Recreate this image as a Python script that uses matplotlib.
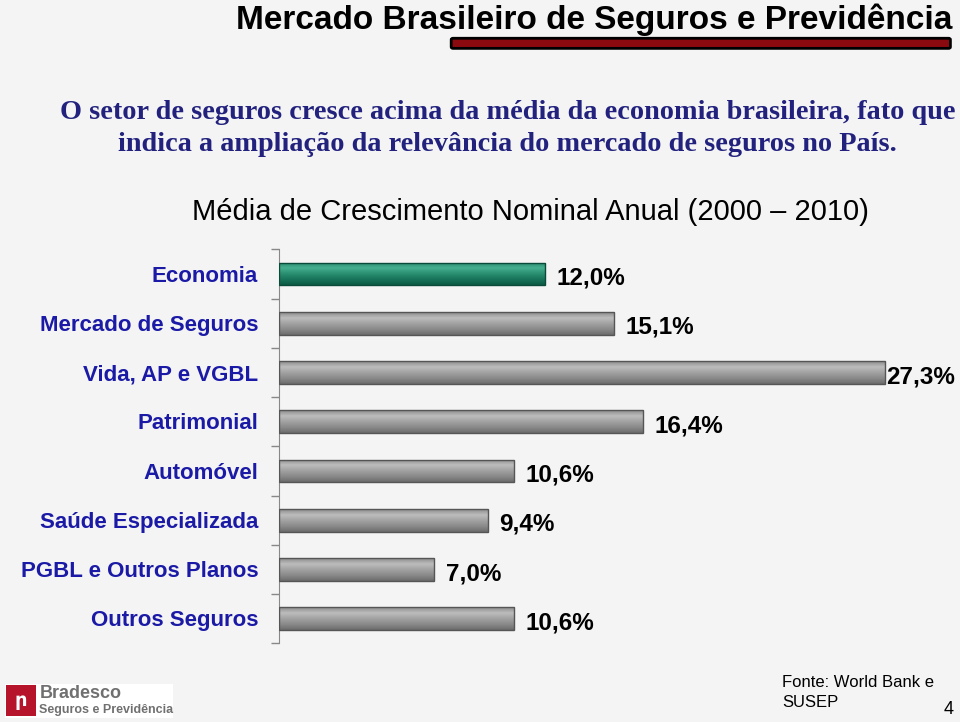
import matplotlib.pyplot as plt
import numpy as np
from matplotlib.colors import LinearSegmentedColormap
from matplotlib.patches import FancyBboxPatch, Rectangle

categorias = ["Economia", "Mercado de Seguros", "Vida, AP e VGBL", "Patrimonial",
              "Automóvel", "Saúde Especializada", "PGBL e Outros Planos", "Outros Seguros"]
valores = [12.0, 15.1, 27.3, 16.4, 10.6, 9.4, 7.0, 10.6]
rotulos = ["12,0%", "15,1%", "27,3%", "16,4%", "10,6%", "9,4%", "7,0%", "10,6%"]

fundo = "#f4f4f4"
azul = "#1a1aa6"

fig = plt.figure(figsize=(9.6, 7.22), dpi=100, facecolor=fundo)

# titulo e barra vermelha
fig.text(0.992, 0.972, "Mercado Brasileiro de Seguros e Previdência", ha="right", va="center",
         fontsize=24, fontweight="bold", family="Liberation Sans")
fig.patches.append(FancyBboxPatch((0.472, 0.935), 0.516, 0.010, boxstyle="round,pad=0.002",
                                  transform=fig.transFigure, facecolor="#8a0a10",
                                  edgecolor="black", linewidth=2))

fig.text(0.529, 0.822, "O setor de seguros cresce acima da média da economia brasileira, fato que\n"
         "indica a ampliação da relevância do mercado de seguros no País.",
         ha="center", va="center", fontsize=20.3, fontweight="bold", family="Liberation Serif",
         color="#22227e", linespacing=1.37)

fig.text(0.553, 0.7064, "Média de Crescimento Nominal Anual (2000 – 2010)", ha="center", va="center",
         fontsize=21, family="Liberation Sans")

escala = 22.2  # px por ponto percentual
xmax = 30.0
ax = fig.add_axes([279 / 960, 0.1088, xmax * escala / 960, 0.5457])
ax.set_facecolor(fundo)
y = np.arange(len(categorias))
bars = ax.barh(y, valores, height=0.46, color="none", edgecolor="none", zorder=2)

# cores de cima para baixo
verde = LinearSegmentedColormap.from_list("v", ["#2a8a6c", "#45b08f", "#2a8f70", "#17745a", "#0c5a44"])
cinza = LinearSegmentedColormap.from_list("c", ["#8c8c8c", "#bdbdbd", "#a2a2a2", "#8a8a8a", "#6c6c6c"])
grad = np.linspace(0, 1, 64).reshape(-1, 1)
for i, b in enumerate(bars):
    cm = verde if i == 0 else cinza
    x0, w = b.get_x(), b.get_width()
    yb, h = b.get_y(), b.get_height()
    img = ax.imshow(grad, extent=(x0, x0 + w, yb + h, yb), origin="upper", cmap=cm,
                    aspect="auto", zorder=2, interpolation="bilinear")
    img.set_clip_path(b)
    ax.add_patch(Rectangle((x0, yb), w, h, facecolor="none",
                           edgecolor="#0a4a38" if i == 0 else "#555555", linewidth=1, zorder=3))
    dx = 8 if valores[i] < 25 else 1
    ax.annotate(rotulos[i], (valores[i], y[i]), xytext=(dx, -3), textcoords="offset points",
                ha="left", va="center", fontsize=17.5, fontweight="bold", family="Liberation Sans",
                annotation_clip=False)

ax.set_xlim(0, xmax)
ax.set_ylim(len(categorias) - 0.5, -0.5)
ax.set_xticks([])
ax.set_yticks(np.arange(len(categorias) + 1) - 0.5)
ax.set_yticklabels([])
ax.tick_params(axis="y", length=6, color="#888888", width=1)
for i, c in enumerate(categorias):
    ax.annotate(c, (0, y[i]), xytext=(-15, -1.5), textcoords="offset points", ha="right", va="center",
                fontsize=16, fontweight="bold", family="Liberation Sans", color=azul,
                annotation_clip=False)
for s in ["top", "right", "bottom"]:
    ax.spines[s].set_visible(False)
ax.spines["left"].set_color("#888888")

# logo
fig.patches.append(Rectangle((0.005, 0.005), 0.175, 0.048, transform=fig.transFigure,
                             facecolor="white", edgecolor="none"))
fig.patches.append(Rectangle((0.006, 0.008), 0.031, 0.043, transform=fig.transFigure,
                             facecolor="#b5142a", edgecolor="none"))
fig.text(0.0215, 0.030, "ր", ha="center", va="center", color="white", fontsize=14, fontweight="bold")
fig.text(0.041, 0.040, "Bradesco", ha="left", va="center", fontsize=13, fontweight="bold",
         color="#707070", family="Liberation Sans")
fig.text(0.041, 0.016, "Seguros e Previdência", ha="left", va="center", fontsize=9, fontweight="bold",
         color="#707070", family="Liberation Sans")

fig.text(0.815, 0.041, "Fonte: World Bank e\nSUSEP", ha="left", va="center", fontsize=12,
         family="Liberation Sans", linespacing=1.45)
fig.text(0.988, 0.017, "4", ha="center", va="center", fontsize=13, family="Liberation Sans")

fig.savefig("out.png", dpi=100, facecolor=fundo)
